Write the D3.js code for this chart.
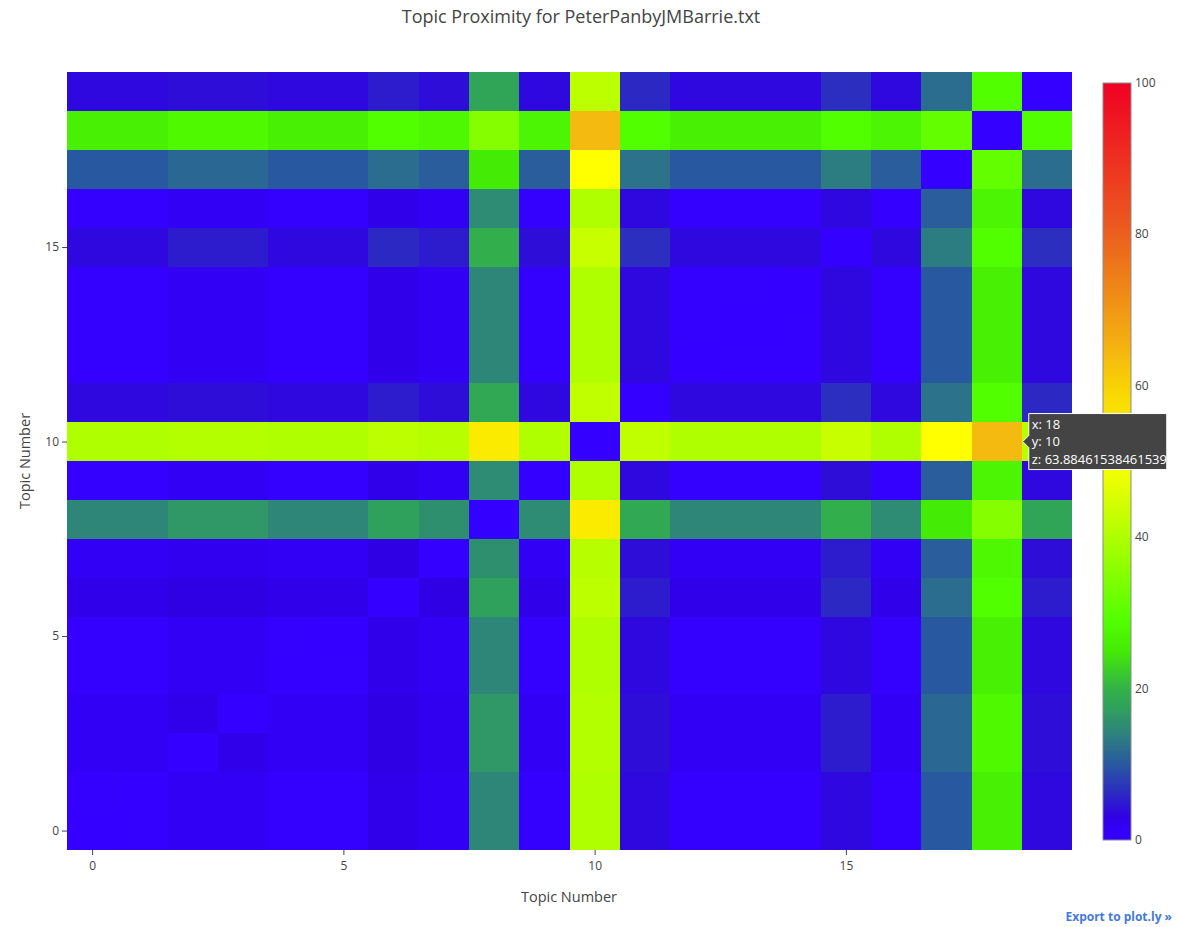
<!DOCTYPE html>
<html>
<head>
<meta charset="utf-8">
<script src="https://cdnjs.cloudflare.com/ajax/libs/d3/7.8.5/d3.min.js"></script>
<style>
  body { margin: 0; background: #fff; }
  svg { font-family: "Open Sans", sans-serif; }
</style>
</head>
<body>
<script>
// topic numbers on both axes
const topics = d3.range(20);
const xTicks = [0, 5, 10, 15];
const yTicks = [0, 5, 10, 15];
const cbTicks = [0, 20, 40, 60, 80, 100];

// proximity values, one row per y topic (y = 0 first)
const zRows = [
  [0, 0.5, 1.5, 1.5, 0.5, 0.5, 2.5, 1.5, 14.5, 0.5, 40, 3.5, 0.5, 0.5, 0.5, 3.5, 0.5, 10, 26, 3.5],
  [0.5, 0, 1.5, 1.5, 0.5, 0.5, 2.5, 1.5, 14.5, 0.5, 40, 3.5, 0.5, 0.5, 0.5, 3.5, 0.5, 10, 26, 3.5],
  [1.5, 1.5, 0, 2.5, 1.5, 1.5, 3, 2, 16.5, 1.5, 40.5, 4, 1.5, 1.5, 1.5, 5, 1.5, 11.5, 28, 4],
  [1.5, 1.5, 2.5, 0, 1.5, 1.5, 3, 2, 16.5, 1.5, 40.5, 4, 1.5, 1.5, 1.5, 5, 1.5, 11.5, 28, 4],
  [0.5, 0.5, 1.5, 1.5, 0, 0.5, 2.5, 1.5, 14.5, 0.5, 40, 3.5, 0.5, 0.5, 0.5, 3.5, 0.5, 10, 26, 3.5],
  [0.5, 0.5, 1.5, 1.5, 0.5, 0, 2.5, 1.5, 14.5, 0.5, 40, 3.5, 0.5, 0.5, 0.5, 3.5, 0.5, 10, 26, 3.5],
  [2.5, 2.5, 3, 3, 2.5, 2.5, 0, 3, 17.5, 2.5, 41.5, 5, 2.5, 2.5, 2.5, 6, 2.5, 12, 29, 5],
  [1.5, 1.5, 2, 2, 1.5, 1.5, 3, 0, 15.5, 1.5, 41, 4, 1.5, 1.5, 1.5, 5, 1.5, 10.5, 27.5, 4],
  [14.5, 14.5, 16.5, 16.5, 14.5, 14.5, 17.5, 15.5, 0, 15, 55, 18.5, 14.5, 14.5, 14.5, 19.5, 15, 25, 35, 18],
  [0.5, 0.5, 1.5, 1.5, 0.5, 0.5, 2.5, 1.5, 15, 0, 40, 3.5, 0.5, 0.5, 0.5, 4, 0.5, 10.5, 27, 3.5],
  [40, 40, 40.5, 40.5, 40, 40, 41.5, 41, 55, 40, 0, 42, 40, 40, 40, 43, 40, 50, 63.88461538461539, 41.5],
  [3.5, 3.5, 4, 4, 3.5, 3.5, 5, 4, 18.5, 3.5, 42, 0, 3.5, 3.5, 3.5, 6.5, 3.5, 12.5, 29, 6],
  [0.5, 0.5, 1.5, 1.5, 0.5, 0.5, 2.5, 1.5, 14.5, 0.5, 40, 3.5, 0, 0.5, 0.5, 3.5, 0.5, 10, 26, 3.5],
  [0.5, 0.5, 1.5, 1.5, 0.5, 0.5, 2.5, 1.5, 14.5, 0.5, 40, 3.5, 0.5, 0, 0.5, 3.5, 0.5, 10, 26, 3.5],
  [0.5, 0.5, 1.5, 1.5, 0.5, 0.5, 2.5, 1.5, 14.5, 0.5, 40, 3.5, 0.5, 0.5, 0, 3.5, 0.5, 10, 26, 3.5],
  [3.5, 3.5, 5, 5, 3.5, 3.5, 6, 5, 19.5, 4, 43, 6.5, 3.5, 3.5, 3.5, 0, 3.5, 13.5, 29, 6.5],
  [0.5, 0.5, 1.5, 1.5, 0.5, 0.5, 2.5, 1.5, 15, 0.5, 40, 3.5, 0.5, 0.5, 0.5, 3.5, 0, 10.5, 27, 3.5],
  [10, 10, 11.5, 11.5, 10, 10, 12, 10.5, 25, 10.5, 50, 12.5, 10, 10, 10, 13.5, 10.5, 0, 31, 12],
  [26, 26, 28, 28, 26, 26, 29, 27.5, 35, 27, 63.88461538461539, 29, 26, 26, 26, 29, 27, 31, 0, 29],
  [3.5, 3.5, 4, 4, 3.5, 3.5, 5, 4, 18, 3.5, 41.5, 6, 3.5, 3.5, 3.5, 6.5, 3.5, 12, 29, 0]
];

// colour scale stops (value, colour)
const csValues = [0, 1, 3, 6, 10, 14, 18, 20, 25, 29, 40, 50, 55, 60, 64, 80, 100];
const csColors = ['rgb(52,0,255)', 'rgb(52,0,252)', 'rgb(47,0,228)', 'rgb(44,40,195)', 'rgb(40,88,160)',
  'rgb(45,130,125)', 'rgb(48,165,88)', 'rgb(50,178,72)', 'rgb(68,235,5)', 'rgb(82,255,0)',
  'rgb(175,255,0)', 'rgb(255,255,0)', 'rgb(250,235,0)', 'rgb(248,210,5)', 'rgb(245,185,15)',
  'rgb(235,95,30)', 'rgb(240,0,35)'];

const hover = { x: 18, y: 10 };

const width = 1178, height = 927;
const plotLeft = 67, plotRight = 1072, plotTop = 72, plotBottom = 850;

const svg = d3.select('body').append('svg')
  .attr('width', width)
  .attr('height', height);

const x = d3.scaleLinear().domain([-0.5, 19.5]).range([plotLeft, plotRight]);
const y = d3.scaleLinear().domain([-0.5, 19.5]).range([plotBottom, plotTop]);
const color = d3.scaleLinear().domain(csValues).range(csColors).interpolate(d3.interpolateRgb);

// flatten to cells
const cells = [];
zRows.forEach((row, yi) => row.forEach((v, xi) => cells.push({ x: topics[xi], y: topics[yi], z: v })));

svg.append('g')
  .attr('shape-rendering', 'crispEdges')
  .selectAll('rect')
  .data(cells)
  .enter()
  .append('rect')
  .attr('x', d => Math.round(x(d.x - 0.5)))
  .attr('y', d => Math.round(y(d.y + 0.5)))
  .attr('width', d => Math.round(x(d.x + 0.5)) - Math.round(x(d.x - 0.5)))
  .attr('height', d => Math.round(y(d.y - 0.5)) - Math.round(y(d.y + 0.5)))
  .attr('fill', d => color(d.z));

// axes
const xAxis = svg.append('g')
  .attr('transform', 'translate(0,' + plotBottom + ')')
  .call(d3.axisBottom(x).tickValues(xTicks).tickSize(5).tickPadding(6));
const yAxis = svg.append('g')
  .attr('transform', 'translate(' + plotLeft + ',0)')
  .call(d3.axisLeft(y).tickValues(yTicks).tickSize(5).tickPadding(3));
[xAxis, yAxis].forEach(a => {
  a.select('.domain').remove();
  a.selectAll('line').attr('stroke', '#444');
  a.selectAll('text').attr('fill', '#444').style('font-size', '12px').style('font-family', '"Open Sans", sans-serif');
});

// titles
svg.append('text')
  .attr('x', 581).attr('y', 23)
  .attr('text-anchor', 'middle')
  .attr('fill', '#444')
  .style('font-size', '18px')
  .text('Topic Proximity for PeterPanbyJMBarrie.txt');

svg.append('text')
  .attr('x', 569).attr('y', 902)
  .attr('text-anchor', 'middle')
  .attr('fill', '#444')
  .style('font-size', '14.5px')
  .text('Topic Number');

svg.append('text')
  .attr('transform', 'translate(30,461) rotate(-90)')
  .attr('text-anchor', 'middle')
  .attr('fill', '#444')
  .style('font-size', '14.5px')
  .text('Topic Number');

// colour bar
const cb = d3.scaleLinear().domain([0, 100]).range([840, 83]);
const grad = svg.append('defs').append('linearGradient')
  .attr('id', 'cbgrad')
  .attr('x1', 0).attr('y1', 1).attr('x2', 0).attr('y2', 0);
grad.selectAll('stop')
  .data(csValues)
  .enter()
  .append('stop')
  .attr('offset', d => d / 100)
  .attr('stop-color', d => color(d));

svg.append('rect')
  .attr('x', 1103).attr('y', cb(100))
  .attr('width', 28).attr('height', cb(0) - cb(100))
  .attr('fill', 'url(#cbgrad)')
  .attr('stroke', '#8c8c8c')
  .attr('stroke-width', 1);

svg.append('g').selectAll('text')
  .data(cbTicks)
  .enter()
  .append('text')
  .attr('x', 1135)
  .attr('y', d => cb(d) + 4)
  .attr('fill', '#444')
  .style('font-size', '12px')
  .text(d => d);

// hover label
const hx = x(hover.x + 0.5) + 1, hy = y(hover.y);
const zVal = zRows[hover.y][hover.x];
const tip = svg.append('g');
tip.append('path')
  .attr('d', `M${hx},${hy} l6,-6 v-22 h138 v56 h-138 v-22 Z`)
  .attr('fill', '#444')
  .attr('stroke', '#fff')
  .attr('stroke-width', 1);
['x: ' + hover.x, 'y: ' + hover.y, 'z: ' + zVal].forEach((t, i) => {
  tip.append('text')
    .attr('x', hx + 9)
    .attr('y', hy - 13 + i * 17.5)
    .attr('fill', '#fff')
    .style('font-size', '13px')
    .text(t);
});

// export link
svg.append('text')
  .attr('x', 1172).attr('y', 921)
  .attr('text-anchor', 'end')
  .attr('fill', '#447adb')
  .style('font-size', '12px')
  .style('font-weight', 'bold')
  .text('Export to plot.ly »');
</script>
</body>
</html>
